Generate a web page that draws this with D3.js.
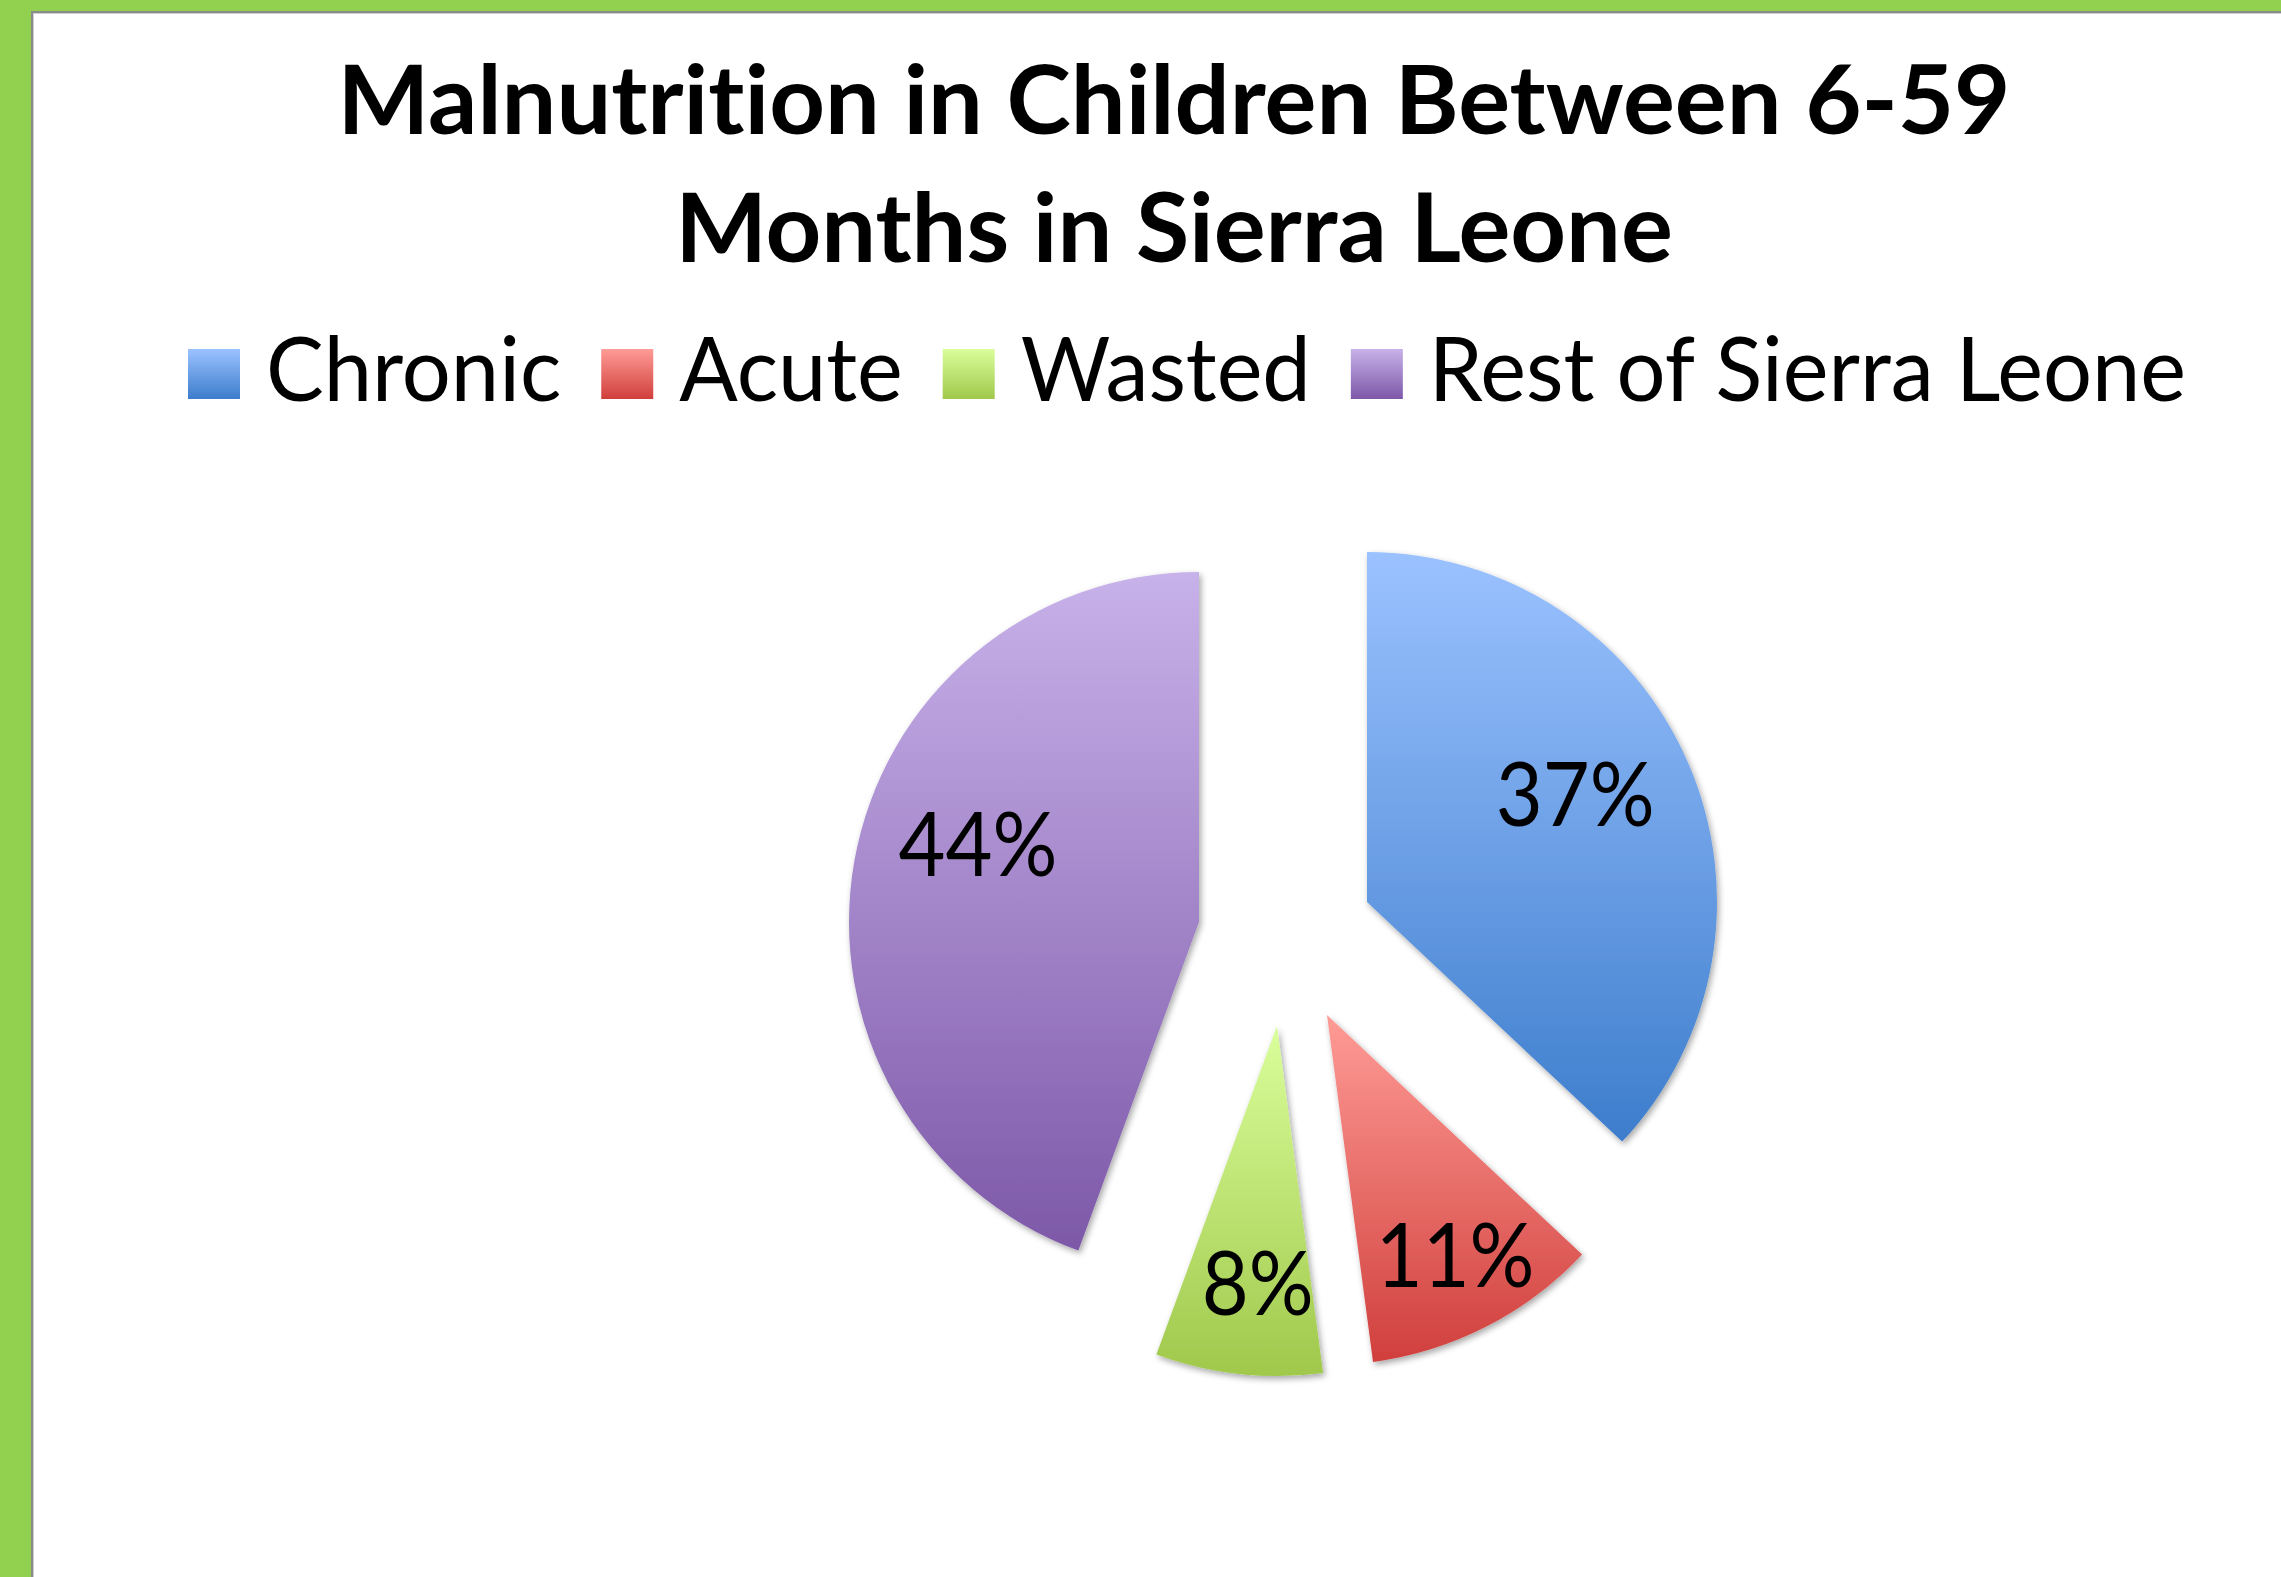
<!DOCTYPE html>
<html lang="en">
<head>
<meta charset="UTF-8">
<title>Malnutrition in Children Between 6-59 Months in Sierra Leone</title>
<script src="https://d3js.org/d3.v7.min.js"></script>
<style>
  body { margin: 0; background: #fff; }
  svg text {
    font-family: "Lato", "Open Sans", sans-serif;
    fill: #000;
    font-variant-ligatures: none;
    font-feature-settings: "liga" 0;
  }
</style>
</head>
<body>
<div id="chart"></div>
<script>
  var categories = ["Chronic", "Acute", "Wasted", "Rest of Sierra Leone"];
  var values = [37.0, 10.9, 7.7, 44.4];
  var titleLines = ["Malnutrition in Children Between 6-59", "Months in Sierra Leone"];

  var colorsTop = ["#9bc2ff", "#ff9b96", "#dafe9b", "#c8b2ea"];
  var colorsBottom = ["#3d7dcc", "#d03f3c", "#a0c84b", "#7d58a8"];
  // pull-out of each slice [dx, dy], and label spot [radius fraction, angle shift in deg]
  var explode = [[77, -58], [37, 55], [-13, 66], [-91, -38]];
  var labelPlace = [[0.67, -4], [0.775, -1], [0.735, -2], [0.67, 9.5]];

  var width = 2281, height = 1577;
  var cx = 1290, cy = 960, radius = 350;

  var svg = d3.select("#chart").append("svg")
    .attr("width", width)
    .attr("height", height);

  var defs = svg.append("defs");

  categories.forEach(function(c, i) {
    var g = defs.append("linearGradient")
      .attr("id", "grad" + i)
      .attr("x1", 0).attr("y1", 0).attr("x2", 0).attr("y2", 1);
    g.append("stop").attr("offset", "0%").attr("stop-color", colorsTop[i]);
    g.append("stop").attr("offset", "100%").attr("stop-color", colorsBottom[i]);
  });

  var shadow = defs.append("filter").attr("id", "shadow")
    .attr("x", "-10%").attr("y", "-10%").attr("width", "130%").attr("height", "130%");
  shadow.append("feDropShadow")
    .attr("dx", 2).attr("dy", 3).attr("stdDeviation", 3)
    .attr("flood-color", "#000").attr("flood-opacity", 0.35);

  // green frame
  svg.append("rect").attr("width", width).attr("height", height).attr("fill", "#92d050");
  svg.append("rect").attr("x", 31).attr("y", 11)
    .attr("width", width - 31).attr("height", height - 11).attr("fill", "#8a8a8a");
  svg.append("rect").attr("x", 33).attr("y", 13)
    .attr("width", width - 33).attr("height", height - 13).attr("fill", "#d0d0d0");
  svg.append("rect").attr("x", 34).attr("y", 14)
    .attr("width", width - 34).attr("height", height - 14).attr("fill", "#fff");

  // title
  var titleText = svg.append("g").selectAll("text")
    .data(titleLines)
    .enter().append("text")
    .attr("x", 1174)
    .attr("y", (d, i) => 134 + i * 128)
    .attr("text-anchor", "middle")
    .attr("font-size", 95)
    .attr("font-weight", "bold")
    .text(d => d);

  var firstLen = titleText.node().getComputedTextLength();
  var titleSqueeze = 1673 / firstLen;
  titleText.each(function() {
    var len = this.getComputedTextLength();
    d3.select(this).attr("textLength", len * titleSqueeze).attr("lengthAdjust", "spacingAndGlyphs");
  });

  // legend
  var legend = svg.append("g");
  var items = legend.selectAll("g")
    .data(categories)
    .enter().append("g");

  items.append("rect")
    .attr("y", 349)
    .attr("width", 52)
    .attr("height", 50)
    .attr("fill", (d, i) => "url(#grad" + i + ")");

  items.append("text")
    .attr("y", 401)
    .attr("font-size", 89)
    .text(d => d);

  var natural = [];
  items.select("text").each(function() { natural.push(this.getComputedTextLength()); });
  var legendStart = 188, legendEnd = 2186, swGap = 78, itemGap = 40;
  var fixedPart = categories.length * swGap + (categories.length - 1) * itemGap;
  var legendSqueeze = (legendEnd - legendStart - fixedPart) / d3.sum(natural);

  var lx = legendStart;
  items.each(function(d, i) {
    var item = d3.select(this);
    var len = natural[i] * legendSqueeze;
    item.select("rect").attr("x", lx);
    item.select("text").attr("x", lx + swGap)
      .attr("textLength", len).attr("lengthAdjust", "spacingAndGlyphs");
    lx += swGap + len + itemGap;
  });

  // pie
  var pie = d3.pie().sort(null).value(d => d);
  var arcs = pie(values);
  var arc = d3.arc().innerRadius(0).outerRadius(radius);
  var total = d3.sum(values);

  var pieG = svg.append("g").attr("transform", "translate(" + cx + "," + cy + ")");

  var slices = pieG.selectAll("g.slice")
    .data(arcs)
    .enter().append("g")
    .attr("class", "slice")
    .attr("transform", (d, i) => "translate(" + explode[i][0] + "," + explode[i][1] + ")");

  slices.append("path")
    .attr("d", arc)
    .attr("fill", (d, i) => "url(#grad" + i + ")")
    .attr("filter", "url(#shadow)");

  slices.append("text")
    .attr("transform", function(d, i) {
      var mid = (d.startAngle + d.endAngle) / 2 + labelPlace[i][1] * Math.PI / 180;
      var r = labelPlace[i][0] * radius;
      return "translate(" + (r * Math.sin(mid)) + "," + (-r * Math.cos(mid)) + ")";
    })
    .attr("dy", "0.36em")
    .attr("text-anchor", "middle")
    .attr("font-size", 90)
    .text(d => Math.round(d.value / total * 100) + "%")
    .each(function() {
      var len = this.getComputedTextLength();
      d3.select(this).attr("textLength", len * 0.9).attr("lengthAdjust", "spacingAndGlyphs");
    });
</script>
</body>
</html>
